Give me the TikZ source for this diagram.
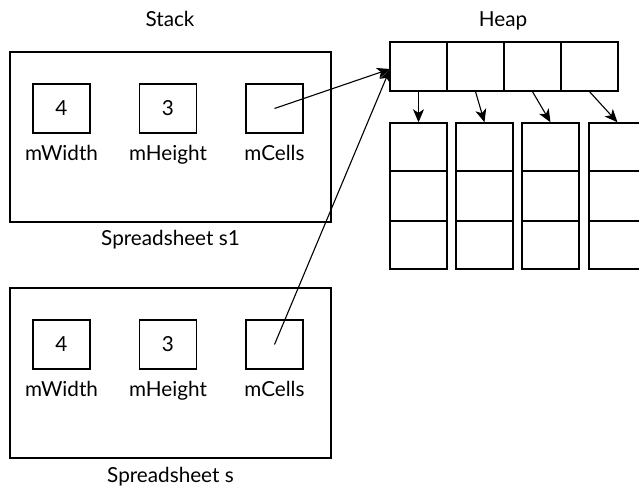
\documentclass[tikz,border=0pt]{standalone}
\usepackage{fontspec}
\setmainfont{Lato}
\usetikzlibrary{arrows.meta}
\begin{document}
\begin{tikzpicture}[x=1pt,y=-1pt,
  every node/.style={font=\fontsize{20.7}{24}\selectfont},
  frame/.style={draw,line width=1.3pt,inner sep=0pt},
  field/.style={frame,minimum width=57pt,minimum height=49pt},
  outer/.style={frame,minimum width=321pt,minimum height=170pt},
  lbl/.style={anchor=base,inner sep=0pt},
  ptr/.style={line width=1.1pt,-{Stealth[length=13pt,width=11pt,inset=3.5pt]}}
]
\useasboundingbox (0,0) rectangle (639,485);
\clip (0,0) rectangle (639,485);
% Stack
\node[lbl] (stack) at (170,26) {Stack};
\node[outer] (s1) at (170.5,137) {};
\node[field] (w1) at (61.5,108.5) {4};
\node[field] (h1) at (168,108.5) {3};
\node[field] (c1) at (274.5,108.5) {};
\node[lbl] (lw1) at (61.5,160) {mWidth};
\node[lbl] (lh1) at (168,160) {mHeight};
\node[lbl] (lc1) at (274.5,160) {mCells};
\node[lbl] (n1) at (170.5,245) {Spreadsheet s1};

\node[outer] (s2) at (170.5,373) {};
\node[field] (w2) at (61.5,344.5) {4};
\node[field] (h2) at (168,344.5) {3};
\node[field] (c2) at (274.5,344.5) {};
\node[lbl] (lw2) at (61.5,396.5) {mWidth};
\node[lbl] (lh2) at (168,396.5) {mHeight};
\node[lbl] (lc2) at (274.5,396.5) {mCells};
\node[lbl] (n2) at (170.5,482) {Spreadsheet s};

% Heap
\node[lbl] (heap) at (503,26) {Heap};
\foreach \i/\x in {1/418.5,2/475.5,3/532.5,4/589.5}{
  \node[field] (t\i) at (\x,66.5) {};
}
\foreach \i/\x in {1/418.5,2/484.5,3/550.5,4/617.5}{
  \node[field,minimum height=48.7pt] (a\i) at (\x,147.3) {};
  \node[field,minimum height=48.7pt] (b\i) at (\x,196) {};
  \node[field,minimum height=48.7pt] (d\i) at (\x,244.7) {};
  \draw[line width=1.6pt] (b\i.north west) -- (b\i.north east) (b\i.south west) -- (b\i.south east);
  \draw[ptr] (t\i.south) -- (a\i.north);
}
\coordinate (hin) at (390,69);
\draw[ptr] (c1.center) -- (hin);
\draw[ptr] (c2.center) -- (hin);
\end{tikzpicture}
\end{document}
